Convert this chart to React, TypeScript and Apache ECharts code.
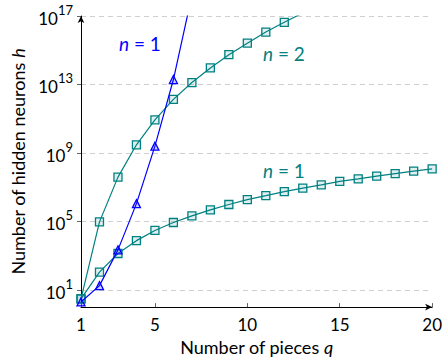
import { useEffect, useRef } from "react";
import * as echarts from "echarts";

// Number of pieces q
const pieces = [1, 2, 3, 4, 5, 6, 7, 8, 9, 10, 11, 12, 13, 14, 15, 16, 17, 18, 19, 20];
// Teal, n = 1 (slow growth)
const hTealN1 = [3, 110, 1350, 7600, 30000, 87000, 214000, 480000, 980000, 1.9e6, 3.2e6, 5.5e6, 8.9e6, 1.38e7, 2.2e7, 3.1e7, 4.5e7, 6.3e7, 8.7e7, 1.17e8];
// Teal, n = 2
const hTealN2 = [3, 9.5e4, 3.9e7, 3.0e9, 8.5e10, 1.35e12, 1.3e13, 9.3e13, 5.5e14, 2.6e15, 1.15e16, 4.3e16, 1.5e17];
// Blue, n = 1 (triangles)
const hBlueN1 = [2, 18, 2200, 1.1e6, 2.5e9, 1.95e13, 1.6e18];

const xTicks = [1, 5, 10, 15, 20];
const yTicks = [1e1, 1e5, 1e9, 1e13, 1e17];

export default function App() {
  const ref = useRef<HTMLDivElement>(null);
  useEffect(() => {
    const chart = echarts.init(ref.current!, null, { renderer: "svg" });
    const font = "Lato";
    const teal = "#008080";
    const blue = "#0000ff";
    const pair = (vals: number[]) => vals.map((v, i) => [pieces[i], v]);
    const labelStyle = (color: string) => ({
      fill: color,
      fontFamily: font,
      fontSize: 19,
      verticalAlign: "middle",
      rich: {
        i: { fontStyle: "italic", fontSize: 19, fontFamily: font, fill: color, color },
        r: { fontSize: 19, fontFamily: font, fill: color, color },
      },
    });
    chart.setOption({
      animation: false,
      textStyle: { fontFamily: font },
      grid: { left: 81, top: 16, width: 352, height: 293.3 },
      xAxis: {
        type: "value",
        min: 1,
        max: 20,
        axisLine: {
          show: true,
          lineStyle: { color: "#000", width: 1 },
          symbol: ["none", "arrow"],
          symbolSize: [5, 7],
        },
        axisTick: { show: true, inside: true, length: 4, lineStyle: { color: "#666" }, customValues: xTicks },
        axisLabel: { customValues: xTicks, fontSize: 17, color: "#000", margin: 9, fontFamily: font },
        splitLine: { show: false },
        name: "Number of pieces {i|q}",
        nameLocation: "middle",
        nameGap: 25,
        nameTextStyle: {
          fontSize: 18,
          color: "#000",
          fontFamily: font,
          rich: { i: { fontStyle: "italic", fontSize: 18, fontFamily: font, color: "#000" } },
        },
      },
      yAxis: {
        type: "log",
        logBase: 10,
        min: 1,
        max: 1e17,
        axisLine: {
          show: true,
          lineStyle: { color: "#000", width: 1 },
          symbol: ["none", "arrow"],
          symbolSize: [5, 7],
        },
        axisTick: { show: true, inside: false, length: 4, lineStyle: { color: "#666" }, customValues: yTicks },
        axisLabel: {
          customValues: yTicks,
          margin: 8,
          color: "#000",
          fontFamily: font,
          formatter: (v: number) => `{b|10}{s|${Math.round(Math.log10(v))}}`,
          rich: {
            b: { fontSize: 17, fontFamily: font, color: "#000", padding: [5, 0, 0, 0] },
            s: { fontSize: 13, fontFamily: font, color: "#000", padding: [0, 0, 12, 0] },
          },
        },
        splitLine: { show: true, lineStyle: { color: "#cfcfcf", width: 1.2, type: [5, 4] } },
        name: "Number of hidden neurons {i|h}",
        nameLocation: "middle",
        nameGap: 52,
        nameTextStyle: {
          fontSize: 18,
          color: "#000",
          fontFamily: font,
          rich: { i: { fontStyle: "italic", fontSize: 18, fontFamily: font, color: "#000" } },
        },
      },
      series: [
        {
          type: "line",
          name: "n = 1 (teal)",
          data: pair(hTealN1),
          clip: true,
          symbol: "rect",
          symbolSize: 8,
          lineStyle: { color: teal, width: 1.2 },
          itemStyle: { color: "rgba(0,128,128,0.12)", borderColor: teal, borderWidth: 1.3 },
          z: 2,
        },
        {
          type: "line",
          name: "n = 2",
          data: pair(hTealN2),
          clip: true,
          symbol: "rect",
          symbolSize: 8,
          lineStyle: { color: teal, width: 1.2 },
          itemStyle: { color: "rgba(0,128,128,0.12)", borderColor: teal, borderWidth: 1.3 },
          z: 3,
        },
        {
          type: "line",
          name: "n = 1 (blue)",
          data: pair(hBlueN1),
          clip: true,
          symbol: "triangle",
          symbolSize: 8,
          lineStyle: { color: blue, width: 1.2 },
          itemStyle: { color: "rgba(0,0,255,0.2)", borderColor: blue, borderWidth: 1.3 },
          z: 4,
        },
      ],
      graphic: [
        { type: "text", left: 119, top: 34, style: { text: "{i|n} {r|= 1}", ...labelStyle(blue) } },
        { type: "text", left: 263, top: 44, style: { text: "{i|n} {r|= 2}", ...labelStyle(teal) } },
        { type: "text", left: 263, top: 161, style: { text: "{i|n} {r|= 1}", ...labelStyle(teal) } },
      ],
    });
    return () => chart.dispose();
  }, []);
  return (
    <div
      ref={ref}
      style={{ position: "absolute", left: 0, top: 0, width: 445, height: 361 }}
    />
  );
}
